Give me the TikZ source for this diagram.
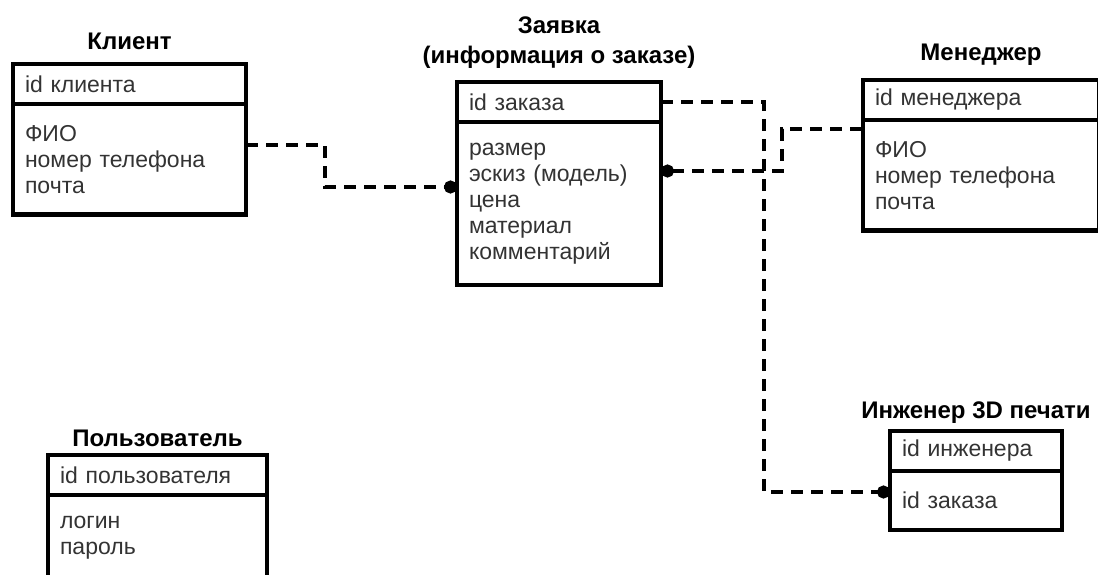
\documentclass[tikz,border=0pt]{standalone}
\usepackage{fontspec}
\setmainfont{Liberation Sans}
\usetikzlibrary{positioning,arrows.meta}

\begin{document}
\begin{tikzpicture}[x=1pt,y=-1pt,
    box/.style={draw,line width=4.5pt,outer sep=0pt,inner xsep=12pt,align=left,
      anchor=north west,text=black!80,font=\fontsize{23}{26}\selectfont},
    keyrow/.style={box,minimum height=40pt},
    attrrows/.style={box,inner ysep=21pt},
    title/.style={font=\bfseries\fontsize{24}{30}\selectfont,align=center,inner sep=2pt},
    link/.style={line width=3.5pt,dash pattern=on 12pt off 8pt}]
    \useasboundingbox (0,0) rectangle (1098,574);
    \clip (0,0) rectangle (1098,574);
    % Клиент
    \node[keyrow,text width=209pt] (clientid) at (13,64) {id клиента};
    \node[attrrows,text width=209pt,below=0pt of clientid] (clientattr) {ФИО\\номер телефона\\почта};
    \node[title,above=12pt of clientid] (clientname) {Клиент};
    % Заявка
    \node[keyrow,text width=180pt] (orderid) at (457,82) {id заказа};
    \node[attrrows,text width=180pt,below=0pt of orderid] (orderattr) {размер\\эскиз (модель)\\цена\\материал\\комментарий};
    \node[title,above=11pt of orderid] (ordername) {Заявка\\(информация о заказе)};
    % Менеджер
    \node[keyrow,text width=212pt] (mgrid) at (863,80) {id менеджера};
    \node[attrrows,text width=212pt,below=0pt of mgrid] (mgrattr) {ФИО\\номер телефона\\почта};
    \node[title,above=12pt of mgrid] (mgrname) {Менеджер};
    % Инженер 3D печати
    \node[keyrow,text width=148pt] (engid) at (890,431) {id инженера};
    \node[attrrows,text width=148pt,below=0pt of engid] (engattr) {id заказа};
    \node[title,above=5pt of engid] (engname) {Инженер 3D печати};
    % Пользователь
    \node[keyrow,text width=195pt] (userid) at (48,455) {id пользователя};
    \node[attrrows,text width=195pt,below=0pt of userid] (userattr) {логин\\пароль};
    \node[title,above=6pt of userid] (username) {Пользователь};
    % связи
    \draw[link,-{Circle[length=13pt]}] ([yshift=-41pt]clientattr.north east) -- ++(79,0)
      |- ([yshift=-65pt]orderattr.north west);
    \draw[link,-{Circle[length=13pt]}] (orderid.east) -- ++(103,0)
      |- ([yshift=-21pt]engattr.north west);
    \draw[link,{Circle[length=13pt]}-] ([yshift=-49pt]orderattr.north east) -- ++(121,0)
      |- ([yshift=-9pt]mgrattr.north west);
\end{tikzpicture}
\end{document}
